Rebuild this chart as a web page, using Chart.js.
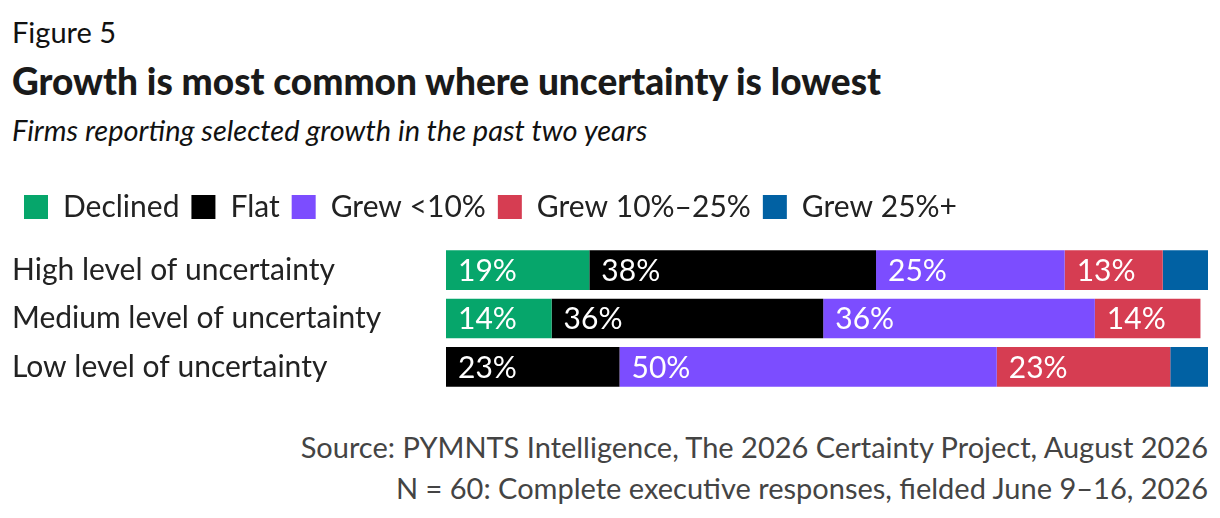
<!DOCTYPE html>
<html>
<head>
<meta charset="utf-8">
<script src="https://cdn.jsdelivr.net/npm/chart.js@4"></script>
<style>
  body { margin: 0; background: #fff; font-family: Lato, sans-serif; color: #111; }
  .txt { position: absolute; left: 12px; white-space: nowrap; }
  #fig { top: 14px; font-size: 29px; font-weight: 400; }
  #title { top: 58px; font-size: 37px; font-weight: 900; color: #1a1a1a; }
  #sub { top: 112px; font-size: 29px; font-style: italic; font-weight: 400; }
  .src { position: absolute; right: 12px; font-size: 29px; font-weight: 400; color: #444; white-space: nowrap; }
  #wrap { position: absolute; left: 0; top: 180px; width: 1220px; height: 232px; }
</style>
</head>
<body>
<div class="txt" id="fig">Figure 5</div>
<div class="txt" id="title">Growth is most common where uncertainty is lowest</div>
<div class="txt" id="sub">Firms reporting selected growth in the past two years</div>
<div id="wrap"><canvas id="grafico"></canvas></div>
<div class="src" style="top:429px">Source: PYMNTS Intelligence, The 2026 Certainty Project, August 2026</div>
<div class="src" style="top:470px">N = 60: Complete executive responses, fielded June 9–16, 2026</div>
<script>
const categorias = ['High level of uncertainty', 'Medium level of uncertainty', 'Low level of uncertainty'];
const declined = [19, 14, 0];
const flat = [38, 36, 23];
const grewMenos10 = [25, 36, 50];
const grew10a25 = [13, 14, 23];
const grew25 = [6, 0, 5];

// Rótulos brancos dentro das barras
const rotulos = {
    id: 'rotulos',
    beforeInit(chart) {
        const fit = chart.legend.fit;
        chart.legend.fit = function () {
            fit.bind(chart.legend)();
            this.height += 14;
        };
    },
    afterDatasetsDraw(chart) {
        const ctx = chart.ctx;
        ctx.save();
        ctx.font = '30px Lato';
        ctx.fillStyle = '#fff';
        ctx.textAlign = 'left';
        ctx.textBaseline = 'middle';
        chart.data.datasets.forEach((ds, i) => {
            if (i === 4) return;
            chart.getDatasetMeta(i).data.forEach((bar, j) => {
                const v = ds.data[j];
                if (v < 10) return;
                ctx.fillText(v + '%', Math.min(bar.base, bar.x) + 12, bar.y + 1);
            });
        });
        ctx.restore();
    }
};

const ctx = document.getElementById('grafico').getContext('2d');
new Chart(ctx, {
    type: 'bar',
    data: {
        labels: categorias,
        datasets: [
            { label: 'Declined', data: declined, backgroundColor: '#06a66b' },
            { label: 'Flat', data: flat, backgroundColor: '#000000' },
            { label: 'Grew <10%', data: grewMenos10, backgroundColor: '#7c4dff' },
            { label: 'Grew 10%–25%', data: grew10a25, backgroundColor: '#d63d52' },
            { label: 'Grew 25%+', data: grew25, backgroundColor: '#0161a3' },
        ],
    },
    options: {
        indexAxis: 'y',
        responsive: true,
        maintainAspectRatio: false,
        animation: false,
        layout: { padding: { left: 12, right: 12, bottom: 16 } },
        datasets: { bar: { barPercentage: 0.82, categoryPercentage: 1 } },
        plugins: {
            legend: {
                align: 'start',
                labels: {
                    boxWidth: 24, boxHeight: 24, padding: 12,
                    color: '#222', font: { family: 'Lato', size: 30, weight: 400 },
                },
            },
            tooltip: { enabled: false },
        },
        scales: {
            x: { stacked: true, min: 0, max: 101, display: false },
            y: {
                stacked: true,
                afterFit(scale) { scale.width = 434; },
                grid: { display: false }, border: { display: false },
                ticks: { crossAlign: 'far', color: '#222', font: { family: 'Lato', size: 30, weight: 400 } },
            },
        },
    },
    plugins: [rotulos],
});
</script>
</body>
</html>
